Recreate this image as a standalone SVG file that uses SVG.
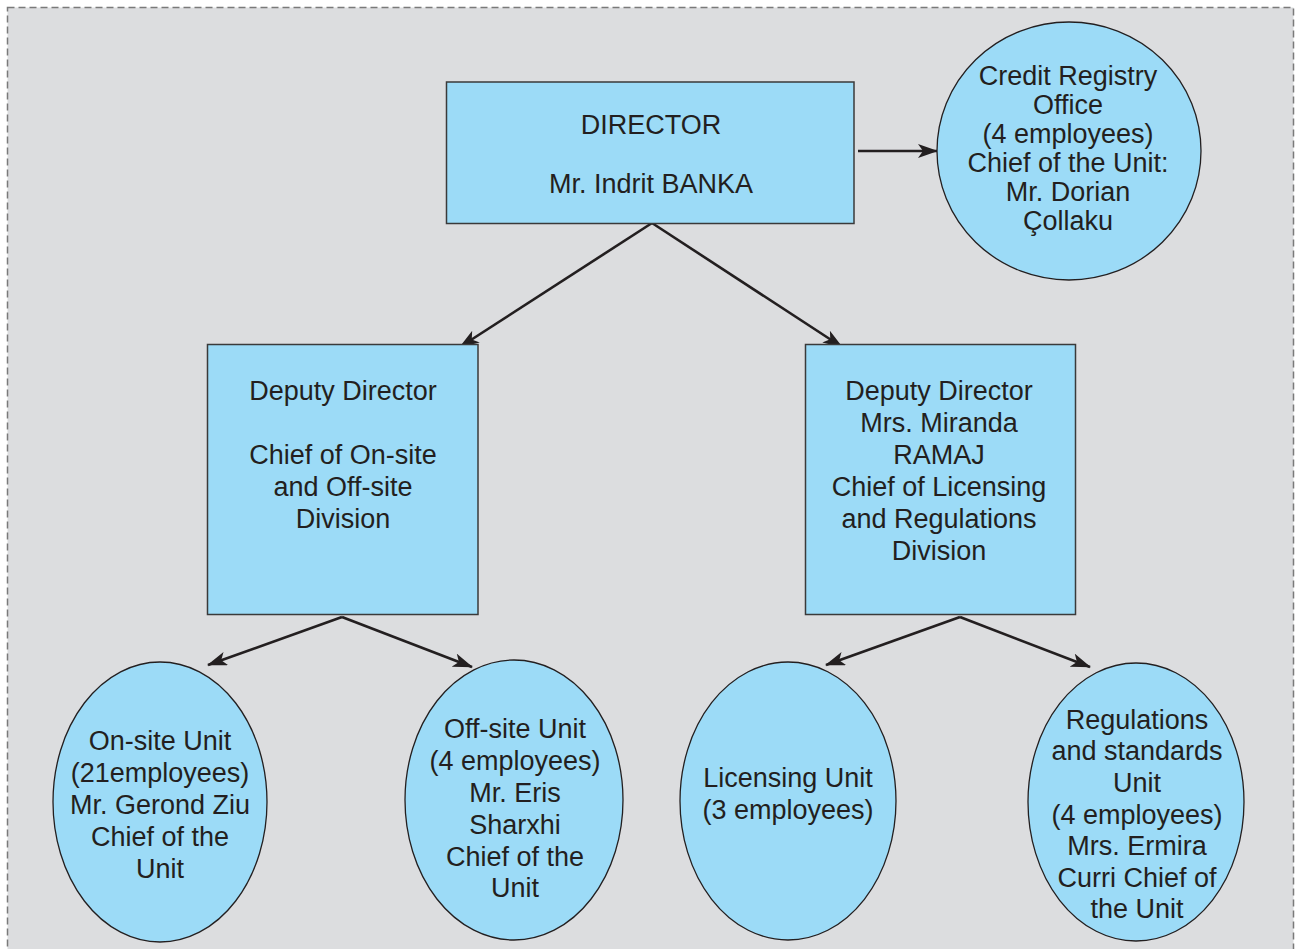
<svg xmlns="http://www.w3.org/2000/svg" width="1298" height="949" viewBox="0 0 1298 949">
<style>
.bg{fill:#dcdddf;stroke:#7a7a7a;stroke-width:1.5;stroke-dasharray:7 4}
.box{fill:#9cdbf7;stroke:#3a3a3a;stroke-width:1.5}
.oval{fill:#9cdbf7;stroke:#231f20;stroke-width:1.3}
.t{font-family:"Liberation Sans",Arial,sans-serif;font-size:27px;fill:#231f20;text-anchor:middle}
.c{stroke:#231f20;stroke-width:2.6;fill:none;marker-end:url(#ah)}
</style>
<defs>
<marker id="ah" viewBox="0 0 20 14" refX="19" refY="7" markerWidth="20" markerHeight="14" markerUnits="userSpaceOnUse" orient="auto">
<path d="M0,0 L20,7 L0,14 L5,7 Z" fill="#231f20"/>
</marker>
</defs>
<rect width="1298" height="949" fill="#ffffff"/>
<rect class="bg" x="7.5" y="7.5" width="1286" height="960"/>
<g id="connectors">
<line class="c" x1="858" y1="151" x2="937" y2="151"/>
<line class="c" x1="652" y1="223" x2="460" y2="347"/>
<line class="c" x1="652" y1="223" x2="842" y2="347"/>
<line class="c" x1="342" y1="617" x2="208" y2="665"/>
<line class="c" x1="342" y1="617" x2="472" y2="667"/>
<line class="c" x1="960" y1="617" x2="826" y2="665"/>
<line class="c" x1="960" y1="617" x2="1090" y2="667"/>
</g>
<g id="director">
<rect class="box" x="446.5" y="82" width="407.5" height="141.5"/>
<text class="t" x="651" y="134">DIRECTOR</text>
<text class="t" x="651" y="193">Mr. Indrit BANKA</text>
</g>
<g id="credit-registry">
<ellipse class="oval" cx="1069" cy="151" rx="132" ry="129"/>
<text class="t" x="1068" y="85">Credit Registry</text>
<text class="t" x="1068" y="114">Office</text>
<text class="t" x="1068" y="143">(4 employees)</text>
<text class="t" x="1068" y="172">Chief of the Unit:</text>
<text class="t" x="1068" y="201">Mr. Dorian</text>
<text class="t" x="1068" y="230">Çollaku</text>
</g>
<g id="deputy-left">
<rect class="box" x="207.5" y="344.5" width="270.5" height="270"/>
<text class="t" x="343" y="400">Deputy Director</text>
<text class="t" x="343" y="464">Chief of On-site</text>
<text class="t" x="343" y="496">and Off-site</text>
<text class="t" x="343" y="528">Division</text>
</g>
<g id="deputy-right">
<rect class="box" x="805.5" y="344.5" width="270" height="270"/>
<text class="t" x="939" y="400">Deputy Director</text>
<text class="t" x="939" y="432">Mrs. Miranda</text>
<text class="t" x="939" y="464">RAMAJ</text>
<text class="t" x="939" y="496">Chief of Licensing</text>
<text class="t" x="939" y="528">and Regulations</text>
<text class="t" x="939" y="560">Division</text>
</g>
<g id="onsite-unit">
<ellipse class="oval" cx="160" cy="802" rx="107" ry="140"/>
<text class="t" x="160" y="750">On-site Unit</text>
<text class="t" x="160" y="782">(21employees)</text>
<text class="t" x="160" y="814">Mr. Gerond Ziu</text>
<text class="t" x="160" y="846">Chief of the</text>
<text class="t" x="160" y="878">Unit</text>
</g>
<g id="offsite-unit">
<ellipse class="oval" cx="514" cy="800" rx="109" ry="140"/>
<text class="t" x="515" y="738">Off-site Unit</text>
<text class="t" x="515" y="770">(4 employees)</text>
<text class="t" x="515" y="802">Mr. Eris</text>
<text class="t" x="515" y="834">Sharxhi</text>
<text class="t" x="515" y="866">Chief of the</text>
<text class="t" x="515" y="897">Unit</text>
</g>
<g id="licensing-unit">
<ellipse class="oval" cx="788" cy="801" rx="108" ry="139"/>
<text class="t" x="788" y="787">Licensing Unit</text>
<text class="t" x="788" y="819">(3 employees)</text>
</g>
<g id="regulations-unit">
<ellipse class="oval" cx="1136" cy="802" rx="108" ry="139"/>
<text class="t" x="1137" y="729">Regulations</text>
<text class="t" x="1137" y="760">and standards</text>
<text class="t" x="1137" y="792">Unit</text>
<text class="t" x="1137" y="824">(4 employees)</text>
<text class="t" x="1137" y="855">Mrs. Ermira</text>
<text class="t" x="1137" y="887">Curri Chief of</text>
<text class="t" x="1137" y="918">the Unit</text>
</g>
</svg>
